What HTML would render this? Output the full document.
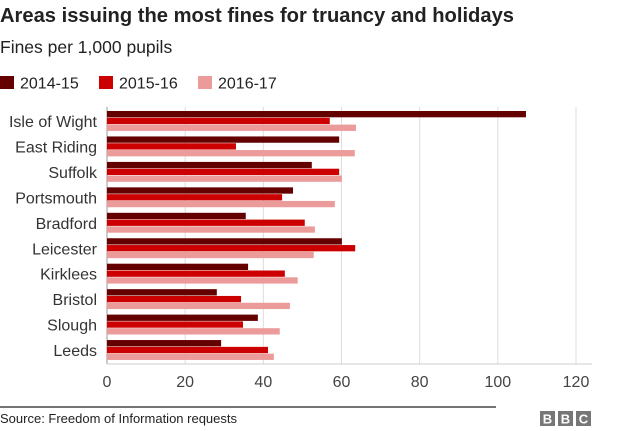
<!DOCTYPE html>
<html><head><meta charset="utf-8"><style>
body{margin:0;width:624px;height:431px;background:#fff;overflow:hidden;font-family:"Liberation Sans",Arial,sans-serif;}
svg{display:block}
</style></head><body>
<svg width="624" height="431">
<text x="0" y="22" font-size="20" font-weight="bold" fill="#222" textLength="514" lengthAdjust="spacingAndGlyphs">Areas issuing the most fines for truancy and holidays</text>
<text x="0" y="53" font-size="17.5" fill="#222">Fines per 1,000 pupils</text>
<g id="legend"></g>
<g id="grid"></g>
<g id="bars"></g>
<g id="labels"></g>
<g id="ticks"></g>
<line x1="0" y1="407" x2="496" y2="407" stroke="#222" stroke-width="1.3"/>
<text x="0" y="423" font-size="13" fill="#222">Source: Freedom of Information requests</text>
<g>
<rect x="540" y="411" width="15" height="15" fill="#777"/><rect x="558" y="411" width="15" height="15" fill="#777"/><rect x="576" y="411" width="15" height="15" fill="#777"/>
<text x="547.5" y="423.5" font-size="13" font-weight="bold" fill="#fff" text-anchor="middle">B</text>
<text x="565.5" y="423.5" font-size="13" font-weight="bold" fill="#fff" text-anchor="middle">B</text>
<text x="583.5" y="423.5" font-size="13" font-weight="bold" fill="#fff" text-anchor="middle">C</text>
</g>
</svg>
<script>
const categories=["Isle of Wight","East Riding","Suffolk","Portsmouth","Bradford","Leicester","Kirklees","Bristol","Slough","Leeds"];
const s2014=[107.2,59.4,52.4,47.6,35.5,60.1,36.1,28.1,38.6,29.2];
const s2015=[57.0,33.0,59.4,44.8,50.6,63.5,45.5,34.3,34.8,41.2];
const s2016=[63.7,63.4,60.1,58.3,53.2,52.9,48.8,46.8,44.2,42.7];
const seriesNames=["2014-15","2015-16","2016-17"];
const tickValues=[0,20,40,60,80,100,120];
const NS="http://www.w3.org/2000/svg";
const colors=["#650000","#cc0000","#ec9b9b"];
const x=v=>107+v*3.9083;
const yTop=i=>111+i*25.45;
function mk(t,a,p){const e=document.createElementNS(NS,t);for(const k in a)e.setAttribute(k,a[k]);p.appendChild(e);return e;}
const grid=document.getElementById('grid'),bars=document.getElementById('bars'),labels=document.getElementById('labels'),ticks=document.getElementById('ticks'),legend=document.getElementById('legend');
tickValues.forEach(v=>{
 const l=mk('line',{x1:x(v),x2:x(v),y1:107,y2:364,stroke:v===0?'#999':'#ddd','stroke-width':1},grid);
 
 
 const t=mk('text',{x:x(v),y:387,'font-size':16,fill:'#444','text-anchor':'middle'},ticks);
 t.textContent=v;
 
 
});
const ax=mk('line',{x1:107,x2:592,y1:364,y2:364,stroke:'#ccc','stroke-width':1},grid);


const all=[s2014,s2015,s2016];
categories.forEach((c,i)=>{
 all.forEach((s,k)=>{
  const r=mk('rect',{x:x(0),y:yTop(i)+k*6.8,width:x(s[i])-x(0),height:6.3,fill:colors[k]},bars);
  
  
 });
 const t=mk('text',{x:97,y:yTop(i)+16,'font-size':16,fill:'#333','text-anchor':'end'},labels);
 t.textContent=c;
 
 
});
seriesNames.forEach((n,k)=>{
 const r=mk('rect',{x:k*99,y:76,width:14,height:13,fill:colors[k]},legend);
 
 
 const t=mk('text',{x:k*99+20,y:88.5,'font-size':16,fill:'#222'},legend);
 t.textContent=n;
 
 
});
</script>
</body></html>
